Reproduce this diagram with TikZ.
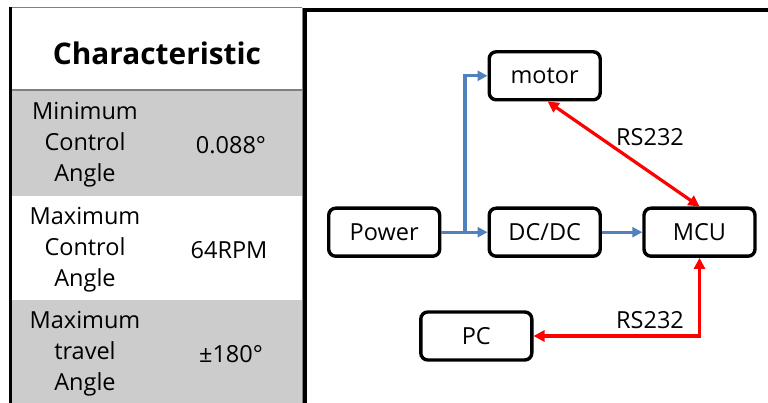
\documentclass[tikz,border=0pt]{standalone}
\usepackage{fontspec}
\setmainfont{Open Sans}
\usetikzlibrary{arrows.meta}
\definecolor{pblue}{HTML}{4F81BD}
\definecolor{cellgray}{HTML}{CCCCCC}
\definecolor{sepgray}{HTML}{808080}
\begin{document}
\begin{tikzpicture}[x=1pt,y=-1pt,
  blk/.style={draw=black,line width=3.4pt,rounded corners=7pt,minimum width=111pt,minimum height=48pt,inner sep=0pt,font=\fontsize{23.5}{26}\selectfont},
  cell/.style={align=center,inner sep=0pt,font=\fontsize{23.5}{31}\selectfont},
  pw/.style={draw=pblue,line width=3.2pt,-{Triangle[length=10pt,width=10pt]}},
  rs/.style={draw=red,line width=3.2pt,{Triangle[length=11pt,width=11pt]}-{Triangle[length=11pt,width=11pt]}},
  lab/.style={inner sep=0pt,font=\fontsize{23.5}{26}\selectfont}]
\useasboundingbox (0,0) rectangle (768,403);
\fill[white] (0,0) rectangle (768,403);
% table
\fill[cellgray] (10,90) rectangle (302,196);
\fill[cellgray] (10,300) rectangle (302,403);
\draw[sepgray,line width=1pt] (10,8) -- (302,8);
\draw[sepgray,line width=1pt] (302,8) -- (302,403);
\draw[sepgray,line width=2.2pt] (10,90) -- (302,90);
\draw[black,line width=3.4pt] (10.5,7) -- (10.5,403);
\draw[black,line width=3.4pt] (305,403) -- (305,10) -- (768,10);
\node[inner sep=0pt,font=\fontsize{29.8}{34}\selectfont\bfseries] (hdr) at (157,53) {Characteristic};
\node[cell] (l1) at (85,145) {Minimum\\Control\\Angle};
\node[cell] (v1) at (231,145) {0.088°};
\node[cell] (l2) at (85,250) {Maximum\\Control\\Angle};
\node[cell] (v2) at (229,250) {64RPM};
\node[cell] (l3) at (85,354) {Maximum\\travel\\Angle};
\node[cell] (v3) at (231,354) {±180°};
% diagram
\node[blk] (motor) at (544.7,75.8) {motor};
\node[blk] (power) at (384.2,232.2) {Power};
\node[blk] (dcdc) at (544.7,232.2) {DC/DC};
\node[blk] (mcu) at (699.5,232.2) {MCU};
\node[blk] (pc) at (476.3,336) {PC};
\coordinate (j) at (465,232.2);
\draw[pw] (power.east) -- (dcdc.west);
\draw[pw] (j) |- (motor.west);
\draw[pw] (dcdc.east) -- (mcu.west);
\draw[rs] ([xshift=3pt]motor.south) -- (mcu.north);
\draw[rs] (mcu.south) |- (pc.east);
\node[lab] (rs1) at (650,137) {RS232};
\node[lab] (rs2) at (650,320) {RS232};
\end{tikzpicture}
\end{document}
